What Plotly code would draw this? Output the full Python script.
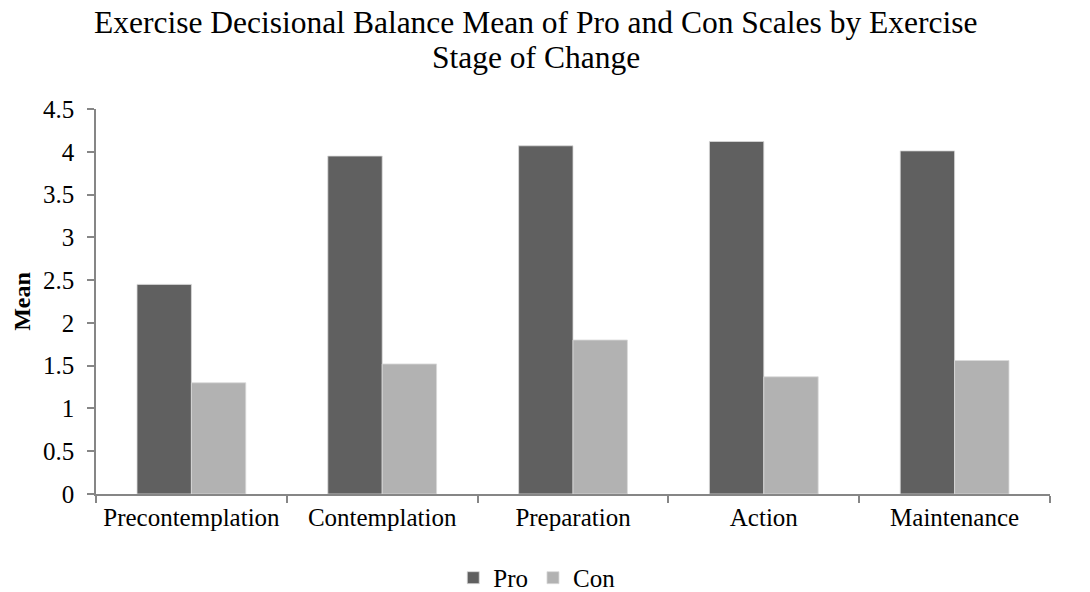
import plotly.graph_objects as go

categories = ["Precontemplation", "Contemplation", "Preparation", "Action", "Maintenance"]
pro = [2.45, 3.95, 4.07, 4.12, 4.01]
con = [1.30, 1.52, 1.80, 1.37, 1.56]
y_ticks = [0, 0.5, 1, 1.5, 2, 2.5, 3, 3.5, 4, 4.5]
y_tick_labels = ["0", "0.5", "1", "1.5", "2", "2.5", "3", "3.5", "4", "4.5"]
title_lines = ["Exercise Decisional Balance Mean of Pro and Con Scales by Exercise", "Stage of Change"]

FONT = "Liberation Serif, Times New Roman, serif"

fig = go.Figure()
fig.add_trace(go.Bar(name="Pro", x=categories, y=pro,
                     marker=dict(color="#606060", line=dict(color="#d9d9d9", width=0.8))))
fig.add_trace(go.Bar(name="Con", x=categories, y=con,
                     marker=dict(color="#b2b2b2", line=dict(color="#d9d9d9", width=0.8))))

for line, ypos in zip(title_lines, [1.2234, 1.1325]):
    fig.add_annotation(text=line, xref="paper", yref="paper", x=0.461, y=ypos,
                       xanchor="center", yanchor="middle", showarrow=False,
                       font=dict(family=FONT, size=31.5, color="black"))

fig.update_layout(
    width=1090, height=592,
    paper_bgcolor="white", plot_bgcolor="white",
    font=dict(family=FONT, color="black", size=25),
    margin=dict(l=96, r=40, t=109, b=98, autoexpand=False),
    barmode="group", bargap=0.43, bargroupgap=0,
    showlegend=True,
    legend=dict(orientation="h", x=0.462, xanchor="center", y=-0.218, yanchor="middle",
                font=dict(family=FONT, size=25), itemwidth=30, tracegroupgap=0),
    xaxis=dict(showline=True, linecolor="#868686", linewidth=1.5, ticks="outside", tickson="boundaries",
               ticklen=7, tickcolor="#868686", tickwidth=1.5, showgrid=False, automargin=False,
               tickfont=dict(family=FONT, size=25)),
    yaxis=dict(range=[0, 4.5], tickvals=y_ticks, ticktext=y_tick_labels, showline=True, linecolor="#868686",
               linewidth=1.5, ticks="outside", ticklen=7, tickcolor="#868686", tickwidth=1.5,
               showgrid=False, zeroline=False, automargin=False, ticklabelstandoff=8,
               title=dict(text="<b>Mean</b>", font=dict(family=FONT, size=24), standoff=6),
               tickfont=dict(family=FONT, size=25)),
)

fig.write_html("out.html", config={"displayModeBar": False},
               post_script="document.body.style.margin='0';document.body.style.overflow='hidden';")
